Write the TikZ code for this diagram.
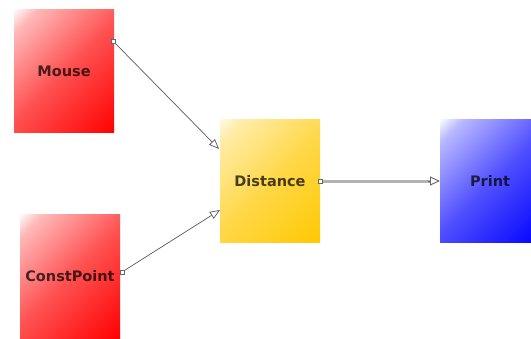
\documentclass[tikz,border=0pt]{standalone}
\usepackage{fontspec}
\setmainfont{DejaVu Sans}
\usetikzlibrary{arrows.meta}
\definecolor{gold}{RGB}{255,200,0}
\definecolor{cream}{RGB}{255,250,232}
\definecolor{lightwire}{RGB}{178,178,178}
% diagonal fades: full colour at the bottom, white at the top
\pgfdeclareverticalshading{redfade}{100bp}{color(0bp)=(red); color(14bp)=(red);
  color(50bp)=(red!68!white); color(78bp)=(red!28!white); color(86bp)=(white); color(100bp)=(white)}
\pgfdeclareverticalshading{bluefade}{100bp}{color(0bp)=(blue); color(14bp)=(blue);
  color(50bp)=(blue!68!white); color(78bp)=(blue!28!white); color(86bp)=(white); color(100bp)=(white)}
\pgfdeclareverticalshading{goldfade}{100bp}{color(0bp)=(gold); color(14bp)=(gold);
  color(50bp)=(gold!68!cream); color(78bp)=(gold!28!cream); color(86bp)=(cream); color(100bp)=(cream)}
\begin{document}
\begin{tikzpicture}[x=1pt,y=-1pt,
  block/.style={minimum width=100pt, minimum height=123pt, inner sep=0pt,
    shading=#1, shading angle=45,
    font=\fontsize{14.5}{17}\selectfont\bfseries, text=black, text opacity=0.72},
  port/.style={draw=gray!80!black, fill=white, minimum size=3.5pt, inner sep=0pt, line width=0.5pt},
  wire/.style={draw=black!65, line width=0.7pt,
    -{Triangle[open, length=10pt, width=8pt, fill=white]}},
  thickwire/.style={draw=lightwire, line width=3pt, shorten >=9pt},
  opentip/.style={draw=black!60, line width=0.9pt,
    -{Triangle[open, length=10pt, width=9pt, fill=white]}}]
  \useasboundingbox (0,0) rectangle (531,338);
  \clip (0,0) rectangle (531,338);

  % processing blocks
  \node[block=redfade] (mouse) at (64,71) {Mouse};
  \node[block=redfade, minimum height=124pt] (const) at (70,276) {ConstPoint};
  \node[block=goldfade] (dist) at (270,181) {Distance};
  \node[block=bluefade] (print) at (490,181) {Print};

  % output ports
  \coordinate (mouseout) at (113,41);
  \coordinate (constout) at (122,272);
  \coordinate (distout) at (320,181);
  % input ports
  \coordinate (distinA) at (219,149);
  \coordinate (distinB) at (220,210);
  \coordinate (printin) at (440,181);
  \coordinate (printtail) at (428,181);

  % connections
  \draw[wire] (mouseout) -- (distinA);
  \draw[wire] (constout) -- (distinB);
  \draw[thickwire] (distout) -- (printin);
  \draw[opentip] (printtail) -- (printin);

  % port markers
  \node[port] (pm) at (mouseout) {};
  \node[port] (pc) at (constout) {};
  \node[port] (pd) at (distout) {};
\end{tikzpicture}
\end{document}
